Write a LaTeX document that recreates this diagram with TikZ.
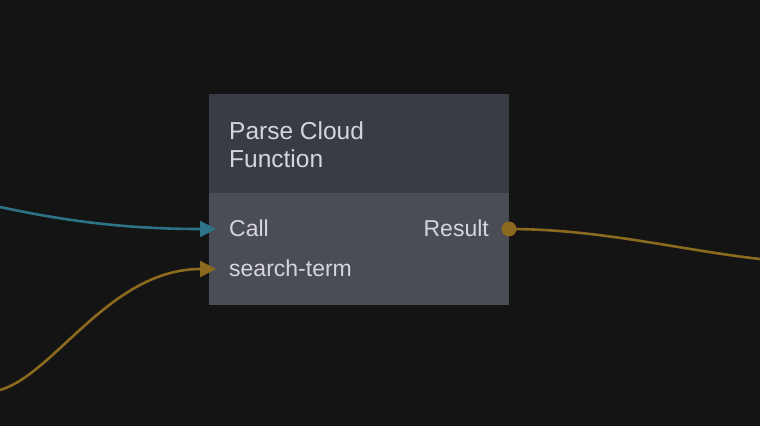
\documentclass[tikz,border=0pt]{standalone}
\usepackage{fontspec}
\setmainfont{Liberation Sans}
\usetikzlibrary{arrows.meta}
\definecolor{bg}{HTML}{141414}
\definecolor{hdr}{HTML}{393C45}
\definecolor{bdy}{HTML}{4A4D56}
\definecolor{txt}{HTML}{D6D6DA}
\definecolor{teal}{HTML}{2C7388}
\definecolor{gold}{HTML}{8B6A1F}
\tikzset{
  lbl/.style={inner sep=0pt, text=txt, font=\fontsize{23}{28}\selectfont},
  ttl/.style={inner sep=0pt, text=txt, font=\fontsize{24.5}{28}\selectfont},
  wire/.style={line width=2.6pt},
  tipin/.style={-{Triangle[length=16pt,width=16pt]}},
}
\begin{document}
\begin{tikzpicture}[x=1pt,y=-1pt]
\fill[bg] (0,0) rectangle (760,426);
\useasboundingbox (0,0) rectangle (760,426);
% node box
\node[fill=hdr, minimum width=300pt, minimum height=99pt, inner sep=0pt, anchor=north west] (head) at (209,94) {};
\node[fill=bdy, minimum width=300pt, minimum height=112pt, inner sep=0pt, anchor=north west] (body) at (209,193) {};
\node[ttl, anchor=base west] (title1) at (229,139) {Parse Cloud};
\node[ttl, anchor=base west] (title2) at (229,167) {Function};
\node[lbl, anchor=base west] (call) at (229,236) {Call};
\node[lbl, anchor=base west] (term) at (229,276) {search-term};
\node[lbl, anchor=base east] (result) at (489,236) {Result};
% ports
\coordinate (pcall) at (216,229);
\coordinate (pterm) at (216,269);
\coordinate (pres) at (509,229);
\coordinate (srcA) at (0,207);
\coordinate (srcB) at (0,390);
\coordinate (dst) at (760,259);
% wires
\draw[wire, teal, tipin] (srcA) .. controls (70,222) and (130,229) .. (pcall);
\draw[wire, gold, tipin] (srcB) .. controls (55,374) and (110,269) .. (pterm);
\draw[wire, gold] (pres) .. controls (600,229) and (680,250) .. (dst);
\fill[gold] (pres) circle (7.5pt);
\end{tikzpicture}
\end{document}
